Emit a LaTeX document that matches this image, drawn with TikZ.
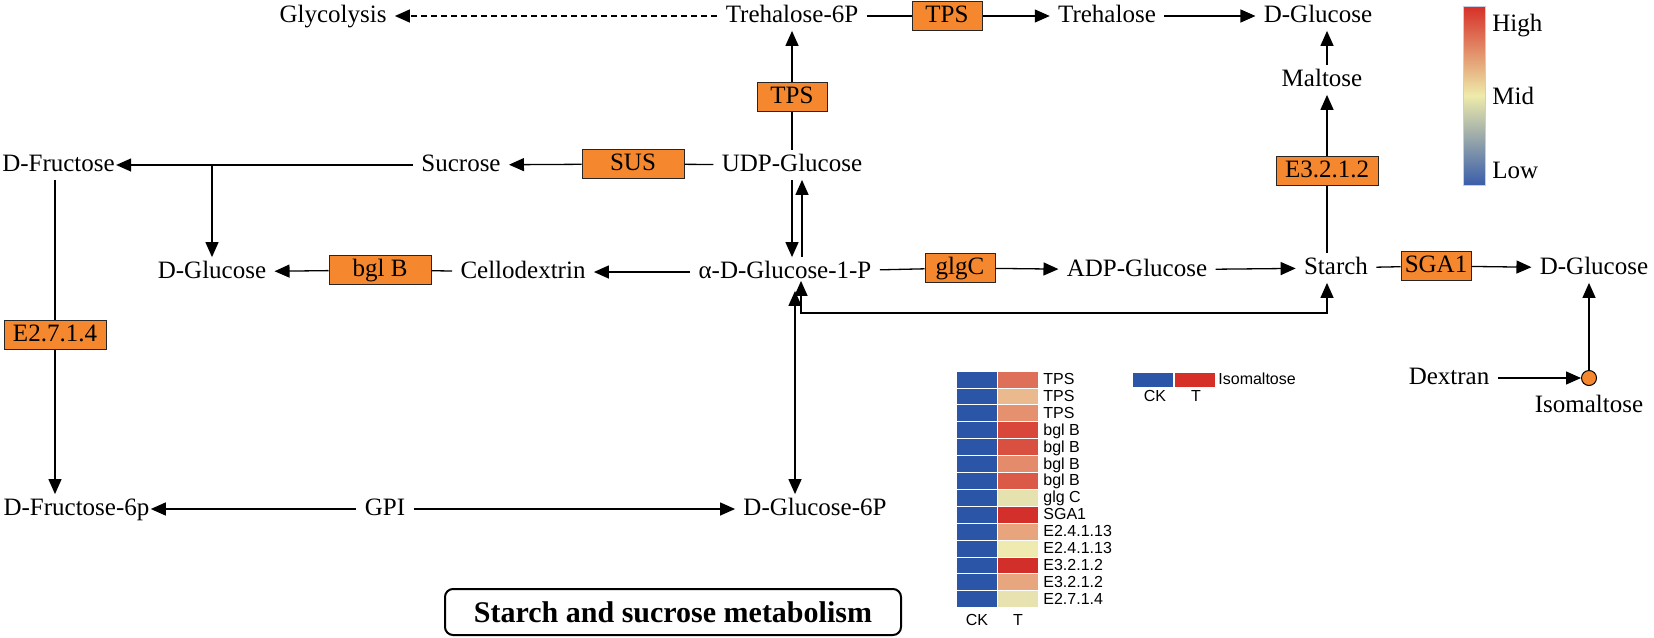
\documentclass[tikz,border=0pt]{standalone}
\usepackage{fontspec}
\setmainfont{Liberation Serif}
\setsansfont{Liberation Sans}
\usetikzlibrary{positioning,arrows.meta}

\definecolor{enzfill}{HTML}{F5882E}
\definecolor{ckblue}{HTML}{2B55A7}
\definecolor{legred}{HTML}{D62F27}
\definecolor{legmid}{HTML}{EEEBAA}
\definecolor{legblue}{HTML}{3A5DAA}
\definecolor{t1}{HTML}{DE6F58}
\definecolor{t2}{HTML}{EAB98E}
\definecolor{t3}{HTML}{E5906F}
\definecolor{t4}{HTML}{D9473B}
\definecolor{t5}{HTML}{DA5040}
\definecolor{t6}{HTML}{E48B6C}
\definecolor{t7}{HTML}{DB5A47}
\definecolor{t8}{HTML}{E5E2B0}
\definecolor{t9}{HTML}{D3302B}
\definecolor{t10}{HTML}{E8A57D}
\definecolor{t11}{HTML}{EFEAAF}
\definecolor{t12}{HTML}{D32F2A}
\definecolor{t13}{HTML}{E8A67F}
\definecolor{t14}{HTML}{E8E2B0}

\begin{document}
\begin{tikzpicture}[x=0.5pt,y=-0.5pt,
	met/.style={inner xsep=4pt, inner ysep=1.5pt, text height=9pt, text depth=2.5pt, font=\fontsize{12.5}{14}\selectfont},
	enz/.style={rectangle, draw=black!85, line width=0.5pt, fill=enzfill, minimum width=35pt, minimum height=14.5pt, inner sep=1pt, text height=9pt, text depth=2.5pt, font=\fontsize{12.5}{14}\selectfont},
	enzwide/.style={enz, minimum width=51pt},
	arr/.style={-{Triangle[length=7.5pt,width=6.5pt]}, line width=0.65pt},
	arrboth/.style={{Triangle[length=7.5pt,width=6.5pt]}-{Triangle[length=7.5pt,width=6.5pt]}, line width=0.65pt},
	ln/.style={line width=0.65pt},
	hm/.style={anchor=west, inner sep=0pt, text height=6pt, text depth=1.5pt, font=\sffamily\fontsize{8}{9}\selectfont}
	]

	\useasboundingbox (0,0) rectangle (1654,637);

		\node (glycolysis) [met] at (333,16) {Glycolysis};
		\node (trehalosesix) [met] at (792,16) {Trehalose-6P};
			\node (tpsup) [enz] at (947,16) {TPS};
		\node (trehalose) [met] at (1107,16) {Trehalose};
		\node (glucosetop) [met] at (1318,16) {D-Glucose};
		\node (maltose) [met] at (1322,80) {Maltose};
			\node (tpsmid) [enz] at (792,97) {TPS};

		\node (fructose) [met, inner xsep=0.5pt] at (58.5,165) {D-Fructose};
		\node (sucrose) [met] at (461,165) {Sucrose};
			\node (sus) [enzwide] at (633,164) {SUS};
		\node (udpglucose) [met] at (792,165) {UDP-Glucose};
			\node (ethreetwo) [enzwide] at (1327,171) {E3.2.1.2};

		\node (glucoseleft) [met] at (212,272) {D-Glucose};
			\node (bglb) [enzwide] at (380,270) {bgl B};
		\node (cellodextrin) [met] at (523,272) {Cellodextrin};
		\node (glucoseonep) [met] at (785,272) {α-D-Glucose-1-P};
			\node (glgc) [enz] at (960,268) {glgC};
		\node (adpglucose) [met] at (1137,270) {ADP-Glucose};
		\node (starch) [met] at (1336,268) {Starch};
			\node (sgaone) [enz] at (1436,266) {SGA1};
		\node (glucoseright) [met] at (1594,268) {D-Glucose};

			\node (etwoseven) [enzwide] at (55,335) {E2.7.1.4};
		\node (dextran) [met] at (1449,378) {Dextran};
		\node (isomaltose) [circle, draw=black, line width=0.5pt, fill=enzfill, minimum size=7.5pt, inner sep=0pt] at (1589,378) {};
		\node (isolabel) [met, below=2.5pt of isomaltose] {Isomaltose};

		\node (fructosesix) [met, inner xsep=0.5pt] at (76.5,509) {D-Fructose-6p};
		\node (gpi) [met] at (385,509) {GPI};
		\node (glucosesix) [met] at (815,509) {D-Glucose-6P};

	\draw [arr, dash pattern=on 3pt off 2pt] (trehalosesix)--(glycolysis);
	\draw [ln] (trehalosesix)--(tpsup);
	\draw [arr] (tpsup)--(trehalose);
	\draw [arr] (trehalose)--(glucosetop);
	\draw [ln] (udpglucose.north)--(tpsmid.south);
	\draw [arr] (tpsmid.north)--(trehalosesix.south);
	\draw [arr] (ethreetwo.north)--(ethreetwo.north |- maltose.south);
	\draw [arr] (ethreetwo |- maltose.north)--(ethreetwo |- glucosetop.south);

	\draw [ln] (udpglucose)--(sus);
	\draw [arr] (sus)--(sucrose);
	\draw [arr] (sucrose)--(fructose);
	\draw [arr] (glucoseleft.north |- fructose.east)--(glucoseleft.north);
	\draw [ln] (etwoseven |- fructose.south)--(etwoseven.north);
	\draw [arr] (etwoseven.south)--(etwoseven |- fructosesix.north);

	\coordinate (udpright) at ([xshift=5pt]udpglucose.south);
	\draw [arr] (udpglucose.south)--(udpglucose.south |- glucoseonep.north);
	\draw [arr] (udpright |- glucoseonep.north)--(udpright);

	\draw [ln] (cellodextrin)--(bglb);
	\draw [arr] (bglb)--(glucoseleft);
	\draw [arr] (glucoseonep)--(cellodextrin);
	\draw [ln] (glucoseonep)--(glgc);
	\draw [arr] (glgc)--(adpglucose);
	\draw [arr] (adpglucose)--(starch);
	\draw [ln] (starch)--(sgaone);
	\draw [arr] (sgaone)--(glucoseright);
	\draw [ln] (ethreetwo |- starch.north)--(ethreetwo.south);
	\draw [arrboth] ([xshift=8pt,yshift=3pt]glucoseonep.south)--++(0,32)-|(ethreetwo |- starch.south);

	\coordinate (sixtop) at ([xshift=-10pt]glucosesix.north);
	\draw [arrboth] (sixtop)--([yshift=-2pt]sixtop |- glucoseonep.south);
	\draw [arr] (gpi)--(glucosesix);
	\draw [arr] (gpi)--(fructosesix);

	\draw [arr] (dextran)--(isomaltose);
	\draw [arr] (isomaltose.north)--(isomaltose |- glucoseright.south);

	\node (title) [draw, rounded corners=4pt, line width=1pt, minimum width=228pt, minimum height=23pt, font=\bfseries\fontsize{15}{18}\selectfont] at (673,612) {Starch and sucrose metabolism};

	\shade [top color=legred, bottom color=legblue, middle color=legmid] (1463,6) rectangle (1485,185);
	\draw [legblue!30, line width=0.3pt] (1463,6) rectangle (1485,185);
		\node (high) [met, anchor=west, inner xsep=1pt] at (1490,25) {High};
		\node (mid) [met, anchor=west, inner xsep=1pt] at (1490,98) {Mid};
		\node (low) [met, anchor=west, inner xsep=1pt] at (1490,172) {Low};

	\foreach \lab/\tc [count=\i] in {TPS/t1, TPS/t2, TPS/t3, bgl B/t4, bgl B/t5, bgl B/t6, bgl B/t7, glg C/t8, SGA1/t9, E2.4.1.13/t10, E2.4.1.13/t11, E3.2.1.2/t12, E3.2.1.2/t13, E2.7.1.4/t14}
	{
		\filldraw [fill=ckblue, draw=white, line width=0.4pt] (956,{371+16.9*(\i-1)}) rectangle (997,{371+16.9*\i});
		\filldraw [fill=\tc, draw=white, line width=0.4pt] (997,{371+16.9*(\i-1)}) rectangle (1038,{371+16.9*\i});
		\node (hmlab\i) [hm] at (1043,{380+16.9*(\i-1)}) {\lab};
	}
		\node (hmck) [hm, anchor=center] at (977,621) {CK};
		\node (hmt) [hm, anchor=center] at (1018,621) {T};

	\fill [ckblue] (1133,373) rectangle (1173,387);
	\fill [legred] (1175,373) rectangle (1215,387);
		\node (isokey) [hm] at (1218,380) {Isomaltose};
		\node (isock) [hm, anchor=center] at (1155,397) {CK};
		\node (isot) [hm, anchor=center] at (1196,397) {T};

\end{tikzpicture}
\end{document}
